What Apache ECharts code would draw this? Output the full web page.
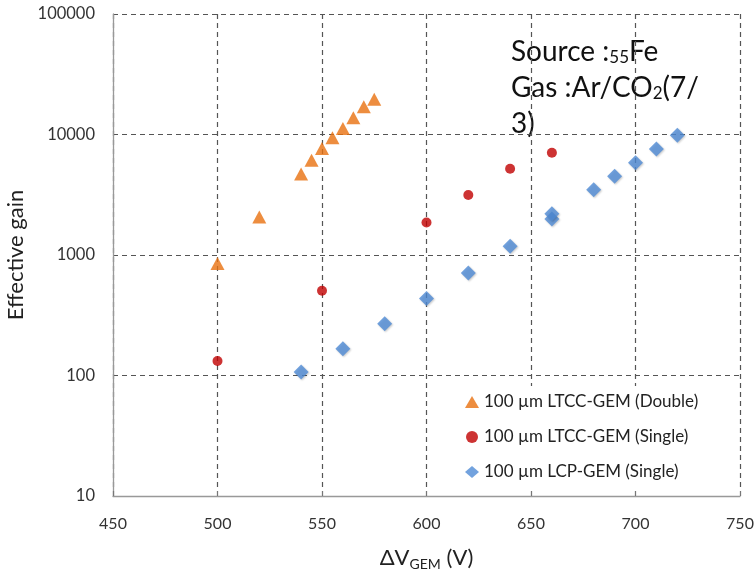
<!DOCTYPE html>
<html>
<head>
<meta charset="utf-8">
<script src="https://cdn.jsdelivr.net/npm/echarts@6/dist/echarts.min.js"></script>
<style>
  html, body { margin: 0; padding: 0; background: #fff; }
  #chart { width: 755px; height: 570px; }
</style>
</head>
<body>
<div id="chart"></div>
<script>
// Effective gain vs. GEM voltage for three GEM configurations
const seriesNames = [
  '100 µm LTCC-GEM (Double)',
  '100 µm LTCC-GEM (Single)',
  '100 µm LCP-GEM (Single)'
];

const ltccDoubleV = [500, 520, 540, 545, 550, 555, 560, 565, 570, 575];
const ltccDoubleGain = [850, 2070, 4700, 6100, 7650, 9400, 11200, 13800, 17000, 19600];

const ltccSingleV = [500, 550, 600, 620, 640, 660];
const ltccSingleGain = [132, 505, 1860, 3150, 5200, 7050];

const lcpSingleV = [540, 560, 580, 600, 620, 640, 660, 660, 680, 690, 700, 710, 720];
const lcpSingleGain = [107, 167, 269, 435, 710, 1180, 1990, 2200, 3480, 4500, 5840, 7570, 9850];

const xTicks = { min: 450, max: 750, step: 50 };
const yTicks = { min: 10, max: 100000 };

const zip = (xs, ys) => xs.map((x, i) => [x, ys[i]]);

const FONT = 'Lato, "Open Sans", sans-serif';
const chart = echarts.init(document.getElementById('chart'), null, { renderer: 'canvas' });

const dashed = { color: '#555', type: [5, 4], width: 1.2 };

chart.setOption({
  animation: false,
  backgroundColor: '#fff',
  grid: { left: 113, right: 15, top: 14, bottom: 74, containLabel: false, outerBoundsMode: 'none' },
  xAxis: {
    type: 'value',
    min: xTicks.min, max: xTicks.max, interval: xTicks.step,
    axisLine: { show: true, lineStyle: { color: '#999', width: 1.3 } },
    axisTick: { show: true, inside: true, length: 5, lineStyle: { color: '#777' } },
    axisLabel: { color: '#333', fontSize: 16, fontFamily: FONT, margin: 20 },
    splitLine: { show: true, lineStyle: dashed },
    name: '{a|ΔV}{s|GEM}{a| (V)}',
    nameLocation: 'middle',
    nameGap: 49,
    nameTextStyle: {
      rich: {
        a: { fontSize: 22, color: '#222', fontFamily: FONT },
        s: { fontSize: 14, color: '#222', fontFamily: FONT, padding: [12, 0, 0, 0] }
      }
    }
  },
  yAxis: {
    type: 'log', logBase: 10,
    min: yTicks.min, max: yTicks.max,
    axisLine: { show: true, lineStyle: { color: '#999', width: 1.3 } },
    axisTick: { show: false },
    axisLabel: { color: '#333', fontSize: 16.5, fontFamily: FONT, margin: 18, formatter: v => String(v) },
    splitLine: { show: true, lineStyle: dashed },
    minorSplitLine: { show: false },
    name: 'Effective gain',
    nameLocation: 'middle',
    nameGap: 82,
    nameTextStyle: { fontSize: 22, color: '#222', fontFamily: FONT }
  },
  legend: {
    orient: 'vertical',
    left: 457, top: 386,
    padding: [6, 24, 8, 8],
    backgroundColor: '#fff',
    itemGap: 15,
    itemWidth: 14, itemHeight: 12,
    textStyle: { fontSize: 17, lineHeight: 20, color: '#222', fontFamily: FONT },
    data: [
      { name: seriesNames[0], icon: 'triangle' },
      { name: seriesNames[1], icon: 'circle' },
      { name: seriesNames[2], icon: 'diamond' }
    ]
  },
  series: [
    {
      name: seriesNames[0], type: 'scatter',
      symbol: 'triangle', symbolSize: [14, 13],
      itemStyle: { color: '#E8700F' },
      data: zip(ltccDoubleV, ltccDoubleGain)
    },
    {
      name: seriesNames[1], type: 'scatter',
      symbol: 'circle', symbolSize: 10,
      itemStyle: { color: '#C00000' },
      data: zip(ltccSingleV, ltccSingleGain)
    },
    {
      name: seriesNames[2], type: 'scatter',
      symbol: 'diamond', symbolSize: 15,
      itemStyle: { color: '#4F8BD6', shadowColor: 'rgba(0,0,0,0.25)', shadowBlur: 2, shadowOffsetX: 1, shadowOffsetY: 1 },
      data: zip(lcpSingleV, lcpSingleGain)
    }
  ],
  graphic: [
    {
      type: 'text', left: 511, top: 34,
      style: {
        text: 'Source :{s|55}Fe\nGas :Ar/CO{s|2}(7/\n3)',
        font: '28px ' + FONT,
        fill: '#111',
        lineHeight: 36,
        rich: {
          s: { fontSize: 17, fill: '#111', fontFamily: FONT, padding: [12, 0, 0, 0] }
        }
      }
    }
  ]
});
</script>
</body>
</html>
